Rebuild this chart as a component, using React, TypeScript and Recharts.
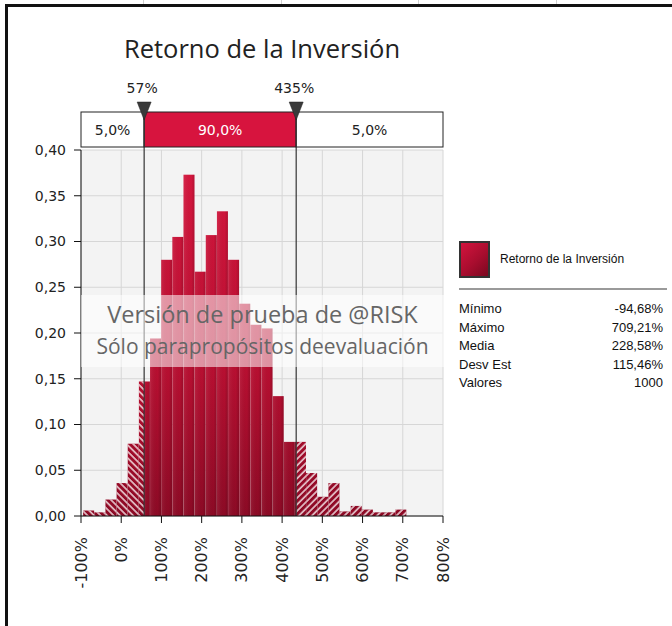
import React from 'react';
import {
  ComposedChart,
  Bar,
  XAxis,
  YAxis,
  CartesianGrid,
  ReferenceLine,
  ReferenceArea,
  Legend,
} from 'recharts';

// histogram bins (percent) and density
const binLo = [
  -94.68, -66.96, -39.24, -11.52, 16.2, 43.92, 71.64, 99.36, 127.08, 154.8,
  182.52, 210.24, 237.96, 265.68, 293.4, 321.12, 348.84, 376.56, 404.28, 432.0,
  459.72, 487.44, 515.16, 542.88, 570.6, 598.32, 626.04, 653.76, 681.48,
];
const binHi = [
  -66.96, -39.24, -11.52, 16.2, 43.92, 71.64, 99.36, 127.08, 154.8, 182.52,
  210.24, 237.96, 265.68, 293.4, 321.12, 348.84, 376.56, 404.28, 432.0, 459.72,
  487.44, 515.16, 542.88, 570.6, 598.32, 626.04, 653.76, 681.48, 709.2,
];
const density = [
  0.006, 0.004, 0.018, 0.036, 0.079, 0.147, 0.194, 0.28, 0.305, 0.373,
  0.267, 0.307, 0.333, 0.28, 0.232, 0.209, 0.205, 0.131, 0.081, 0.081,
  0.047, 0.021, 0.036, 0.005, 0.011, 0.007, 0.004, 0.004, 0.007,
];

const xTicks = [-100, 0, 100, 200, 300, 400, 500, 600, 700, 800];
const yTicks = [0, 0.05, 0.1, 0.15, 0.2, 0.25, 0.3, 0.35, 0.4];

const cutLow = 57;
const cutHigh = 435;
const bandLabels = ['5,0%', '90,0%', '5,0%'];

const title = 'Retorno de la Inversión';
const seriesName = 'Retorno de la Inversión';
const statLabels = ['Mínimo', 'Máximo', 'Media', 'Desv Est', 'Valores'];
const statValues = ['-94,68%', '709,21%', '228,58%', '115,46%', '1000'];
const watermark = ['Versión de prueba de @RISK', 'Sólo parapropósitos deevaluación'];

const data = binLo.map((lo, i) => ({
  mid: (lo + binHi[i]) / 2,
  lo,
  hi: binHi[i],
  p: density[i],
}));

const AXIS_FONT = 'DejaVu Sans, Verdana, sans-serif';
const UI_FONT = 'Open Sans, Noto Sans, sans-serif';

const HistBar = (props: any) => {
  const { x, y, width, height, payload } = props;
  if (!height || height <= 0) return null;
  const { lo, hi } = payload;
  const px = (v: number) => x + ((v - lo) / (hi - lo)) * width;
  const parts: any[] = [];
  if (lo < cutLow) parts.push({ a: lo, b: Math.min(hi, cutLow), hatch: 'hatchL' });
  if (hi > cutLow && lo < cutHigh) parts.push({ a: Math.max(lo, cutLow), b: Math.min(hi, cutHigh), hatch: null });
  if (hi > cutHigh) parts.push({ a: Math.max(lo, cutHigh), b: hi, hatch: 'hatchR' });
  return (
    <g>
      {parts.map((s, i) => {
        const x0 = px(s.a);
        const w = px(s.b) - x0;
        return (
          <g key={i}>
            <rect x={x0} y={y} width={w} height={height} fill="url(#redGrad)" />
            {s.hatch ? (
              <rect x={x0} y={y} width={w} height={height} fill={`url(#${s.hatch})`} />
            ) : (
              <rect x={x0} y={y} width={w} height={height} fill="url(#barShade)" />
            )}
          </g>
        );
      })}
    </g>
  );
};

const BandCell = (props: any) => {
  const { x, y, width, text, red } = props;
  return (
    <g>
      <rect x={x} y={y - 38} width={width} height={35} fill={red ? '#d7143e' : '#fff'} stroke="#222" strokeWidth={1} />
      <text
        x={x + width / 2}
        y={y - 20}
        textAnchor="middle"
        dominantBaseline="central"
        fontFamily={AXIS_FONT}
        fontSize={14}
        fill={red ? '#fff' : '#222'}
      >
        {text}
      </text>
    </g>
  );
};

const CutMarker = (props: any) => {
  const { viewBox, text } = props;
  if (!viewBox) return null;
  const cx = viewBox.x;
  const top = viewBox.y;
  return (
    <g>
      <line x1={cx} y1={top - 38} x2={cx} y2={top} stroke="#333" strokeWidth={1.2} />
      <text x={cx - 2} y={top - 62} textAnchor="middle" dominantBaseline="central" fontFamily={AXIS_FONT} fontSize={14} fill="#222">
        {text}
      </text>
      <path d={`M${cx - 7},${top - 48} L${cx + 7},${top - 48} L${cx},${top - 30} Z`} fill="#3a3a3a" stroke="#222" strokeWidth={0.5} />
    </g>
  );
};

const XTick = (props: any) => {
  const { x, y, payload } = props;
  return (
    <text
      x={x}
      y={y}
      transform={`rotate(-90, ${x}, ${y})`}
      textAnchor="end"
      dominantBaseline="central"
      fontFamily={AXIS_FONT}
      fontSize={16}
      fill="#222"
    >
      {`${payload.value}%`}
    </text>
  );
};

const LegendPanel = () => (
  <div style={{ width: 208, fontFamily: 'Liberation Sans, Arial, sans-serif', fontSize: 13, color: '#111' }}>
    <div style={{ display: 'flex', alignItems: 'center', height: 36 }}>
      <div
        style={{
          width: 27,
          height: 33,
          border: '2px solid #333',
          background: 'linear-gradient(135deg, #d3143e 0%, #a80d2e 55%, #7a0820 100%)',
        }}
      />
      <span style={{ marginLeft: 10, fontSize: 12 }}>{seriesName}</span>
    </div>
    <div style={{ borderTop: '2px solid #9a9a9a', marginTop: 11, marginBottom: 10 }} />
    {statLabels.map((l, i) => (
      <div key={l} style={{ display: 'flex', justifyContent: 'space-between', height: 18.5, lineHeight: '18.5px', paddingRight: 4 }}>
        <span>{l}</span>
        <span>{statValues[i]}</span>
      </div>
    ))}
  </div>
);

const App = () => {
  return (
    <div style={{ position: 'absolute', left: 0, top: 0, width: 672, height: 626, overflow: 'hidden', background: '#fff' }}>
      {/* sheet frame */}
      {[143, 281, 418, 556].map((gx) => (
        <div key={gx} style={{ position: 'absolute', left: gx, top: 0, width: 1, height: 4, background: '#d0d0d0' }} />
      ))}
      <div style={{ position: 'absolute', left: 5, top: 4, width: 700, height: 700, borderLeft: '3px solid #111', borderTop: '3px solid #111' }} />

      <div
        style={{
          position: 'absolute',
          left: 62,
          top: 31,
          width: 400,
          textAlign: 'center',
          fontFamily: UI_FONT,
          fontSize: 25.5,
          color: '#222',
        }}
      >
        {title}
      </div>

      <ComposedChart
        width={672}
        height={626}
        data={data}
        margin={{ top: 150, right: 229, left: 21, bottom: 10 }}
        barCategoryGap={0}
        barGap={0}
        style={{ position: 'absolute', left: 0, top: 0 }}
      >
        <defs>
          <linearGradient id="redGrad" x1="0" y1="150" x2="0" y2="516" gradientUnits="userSpaceOnUse">
            <stop offset="0%" stopColor="#d8173f" />
            <stop offset="60%" stopColor="#b80f31" />
            <stop offset="100%" stopColor="#8c0a25" />
          </linearGradient>
          <linearGradient id="barShade" x1="0" y1="0" x2="1" y2="0">
            <stop offset="0%" stopColor="#ffffff" stopOpacity={0.08} />
            <stop offset="70%" stopColor="#000000" stopOpacity={0} />
            <stop offset="100%" stopColor="#000000" stopOpacity={0.15} />
          </linearGradient>
          <pattern id="hatchL" width="4.6" height="4.6" patternUnits="userSpaceOnUse" patternTransform="rotate(-45)">
            <line x1="1" y1="0" x2="1" y2="4.6" stroke="#ffffff" strokeOpacity={0.9} strokeWidth={1.4} />
          </pattern>
          <pattern id="hatchR" width="4.6" height="4.6" patternUnits="userSpaceOnUse" patternTransform="rotate(45)">
            <line x1="1" y1="0" x2="1" y2="4.6" stroke="#ffffff" strokeOpacity={0.9} strokeWidth={1.4} />
          </pattern>
        </defs>
        <CartesianGrid stroke="#d6d6d6" fill="#f3f3f3" />
        <XAxis
          type="number"
          dataKey="mid"
          domain={[-100, 800]}
          ticks={xTicks}
          interval={0}
          height={100}
          tickSize={7}
          tickMargin={14}
          tick={<XTick />}
          axisLine={{ stroke: '#111' }}
          tickLine={{ stroke: '#111' }}
        />
        <YAxis
          domain={[0, 0.4]}
          ticks={yTicks}
          interval={0}
          width={60}
          tickSize={7}
          tickMargin={8}
          tickFormatter={(v: number) => v.toFixed(2).replace('.', ',')}
          tick={{ fontFamily: AXIS_FONT, fontSize: 14, fill: '#222' }}
          axisLine={{ stroke: '#111' }}
          tickLine={{ stroke: '#111' }}
        />
        <Bar dataKey="p" name={seriesName} shape={<HistBar />} isAnimationActive={false} />
        <ReferenceArea x1={-100} x2={cutLow} shape={(p: any) => <BandCell {...p} text={bandLabels[0]} />} />
        <ReferenceArea x1={cutLow} x2={cutHigh} shape={(p: any) => <BandCell {...p} text={bandLabels[1]} red />} />
        <ReferenceArea x1={cutHigh} x2={800} shape={(p: any) => <BandCell {...p} text={bandLabels[2]} />} />
        <ReferenceLine x={cutLow} stroke="#333" strokeWidth={1.2} label={<CutMarker text={`${cutLow}%`} />} />
        <ReferenceLine x={cutHigh} stroke="#333" strokeWidth={1.2} label={<CutMarker text={`${cutHigh}%`} />} />
        <Legend
          layout="vertical"
          align="center"
          verticalAlign="middle"
          content={<LegendPanel />}
          wrapperStyle={{ left: 459, top: 241, width: 210 }}
        />
      </ComposedChart>

      {/* trial watermark */}
      <div
        style={{
          position: 'absolute',
          left: 81,
          top: 295,
          width: 363,
          height: 72,
          background: 'rgba(255,255,255,0.55)',
          textAlign: 'center',
          fontFamily: UI_FONT,
          color: '#666',
          pointerEvents: 'none',
        }}
      >
        <div style={{ fontSize: 23.5, lineHeight: '34px', marginTop: 2 }}>{watermark[0]}</div>
        <div style={{ fontSize: 21, lineHeight: '30px' }}>{watermark[1]}</div>
      </div>
    </div>
  );
};

export default App;
